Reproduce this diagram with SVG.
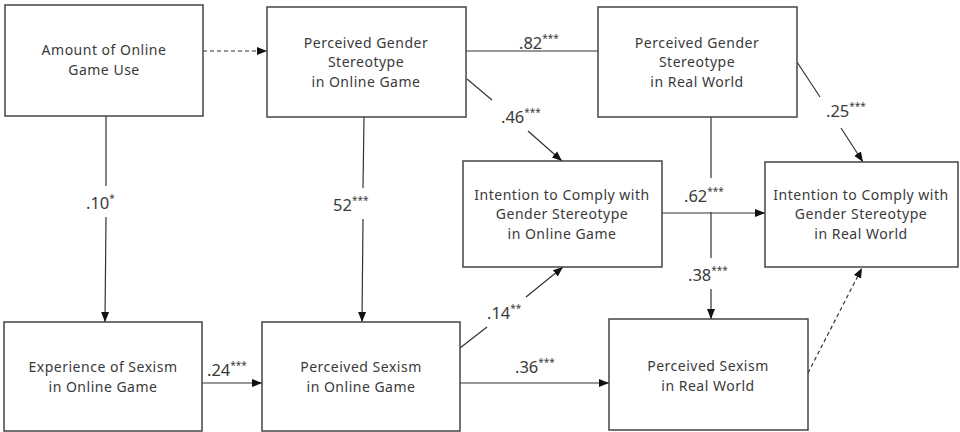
<svg xmlns="http://www.w3.org/2000/svg" width="960" height="432" viewBox="0 0 960 432">
<style>
.box{fill:#fff;stroke:#444;stroke-width:1.5}
.t{font-family:"Noto Sans","Open Sans",sans-serif;font-size:14px;letter-spacing:0.5px;fill:#3a3a3a;text-anchor:middle}
.c{fill:none;stroke:#333;stroke-width:1.2}
.d{fill:none;stroke:#333;stroke-width:1.2;stroke-dasharray:4 3}
.l{font-family:"Noto Sans","Open Sans",sans-serif;font-size:16.5px;fill:#3a3a3a}
.s{font-size:10px}
</style>
<defs>
<marker id="ah" markerUnits="userSpaceOnUse" markerWidth="10" markerHeight="10" viewBox="0 0 10 10" refX="10" refY="5" orient="auto">
<path d="M0,1 L10,5 L0,9 Z" fill="#111"/>
</marker>
</defs>
<rect width="960" height="432" fill="#fff"/>
<g id="connectors">
<line class="d" x1="203" y1="51" x2="267" y2="51" marker-end="url(#ah)"/>
<line class="c" x1="106" y1="116" x2="106" y2="186"/>
<line class="c" x1="106" y1="217" x2="105" y2="322" marker-end="url(#ah)"/>
<line class="c" x1="364" y1="117" x2="363" y2="188"/>
<line class="c" x1="363" y1="219" x2="362" y2="322" marker-end="url(#ah)"/>
<line class="c" x1="466" y1="51" x2="598" y2="51"/>
<line class="c" x1="467" y1="79" x2="492" y2="100"/>
<line class="c" x1="528" y1="131" x2="562" y2="161" marker-end="url(#ah)"/>
<line class="c" x1="797" y1="62" x2="820" y2="97"/>
<line class="c" x1="841" y1="128" x2="863" y2="162" marker-end="url(#ah)"/>
<line class="c" x1="711" y1="117" x2="711" y2="178"/>
<line class="c" x1="711" y1="212" x2="711" y2="258"/>
<line class="c" x1="711" y1="289" x2="711" y2="319" marker-end="url(#ah)"/>
<line class="c" x1="662" y1="213" x2="765" y2="213" marker-end="url(#ah)"/>
<line class="c" x1="202" y1="383" x2="262" y2="383" marker-end="url(#ah)"/>
<line class="c" x1="460" y1="348" x2="487" y2="327"/>
<line class="c" x1="526" y1="297" x2="563" y2="267" marker-end="url(#ah)"/>
<line class="c" x1="460" y1="383" x2="609" y2="383" marker-end="url(#ah)"/>
<line class="d" x1="808" y1="373" x2="862" y2="268" marker-end="url(#ah)"/>
<text class="l" x="519" y="49">.82<tspan class="s" dy="-7">***</tspan></text>
<text class="l" x="501" y="123">.46<tspan class="s" dy="-7">***</tspan></text>
<text class="l" x="826" y="117">.25<tspan class="s" dy="-7">***</tspan></text>
<text class="l" x="86" y="209">.10<tspan class="s" dy="-7">*</tspan></text>
<text class="l" x="333" y="211">52<tspan class="s" dy="-7">***</tspan></text>
<text class="l" x="684" y="202">.62<tspan class="s" dy="-7">***</tspan></text>
<text class="l" x="688" y="281">.38<tspan class="s" dy="-7">***</tspan></text>
<text class="l" x="207" y="376">.24<tspan class="s" dy="-7">***</tspan></text>
<text class="l" x="487" y="319">.14<tspan class="s" dy="-7">**</tspan></text>
<text class="l" x="515" y="373">.36<tspan class="s" dy="-7">***</tspan></text>
</g>
<g id="n1">
<rect class="box" x="5" y="5" width="198" height="111"/>
<text class="t" x="104" y="55">Amount of Online</text>
<text class="t" x="104" y="74.5">Game Use</text>
</g>
<g id="n2">
<rect class="box" x="267" y="7" width="199" height="110"/>
<text class="t" x="366" y="47.5">Perceived Gender</text>
<text class="t" x="366" y="67">Stereotype</text>
<text class="t" x="366" y="86.5">in Online Game</text>
</g>
<g id="n3">
<rect class="box" x="598" y="7" width="199" height="110"/>
<text class="t" x="697" y="47.5">Perceived Gender</text>
<text class="t" x="697" y="67">Stereotype</text>
<text class="t" x="697" y="86.5">in Real World</text>
</g>
<g id="n4">
<rect class="box" x="463" y="161" width="199" height="106"/>
<text class="t" x="562" y="199.5">Intention to Comply with</text>
<text class="t" x="562" y="219">Gender Stereotype</text>
<text class="t" x="562" y="238.5">in Online Game</text>
</g>
<g id="n5">
<rect class="box" x="765" y="162" width="193" height="105"/>
<text class="t" x="861" y="199.5">Intention to Comply with</text>
<text class="t" x="861" y="219">Gender Stereotype</text>
<text class="t" x="861" y="238.5">in Real World</text>
</g>
<g id="n6">
<rect class="box" x="4" y="322" width="198" height="109"/>
<text class="t" x="103" y="372">Experience of Sexism</text>
<text class="t" x="103" y="391.5">in Online Game</text>
</g>
<g id="n7">
<rect class="box" x="262" y="322" width="198" height="109"/>
<text class="t" x="361" y="372">Perceived Sexism</text>
<text class="t" x="361" y="391.5">in Online Game</text>
</g>
<g id="n8">
<rect class="box" x="609" y="319" width="199" height="111"/>
<text class="t" x="708" y="371">Perceived Sexism</text>
<text class="t" x="708" y="390.5">in Real World</text>
</g>
</svg>
